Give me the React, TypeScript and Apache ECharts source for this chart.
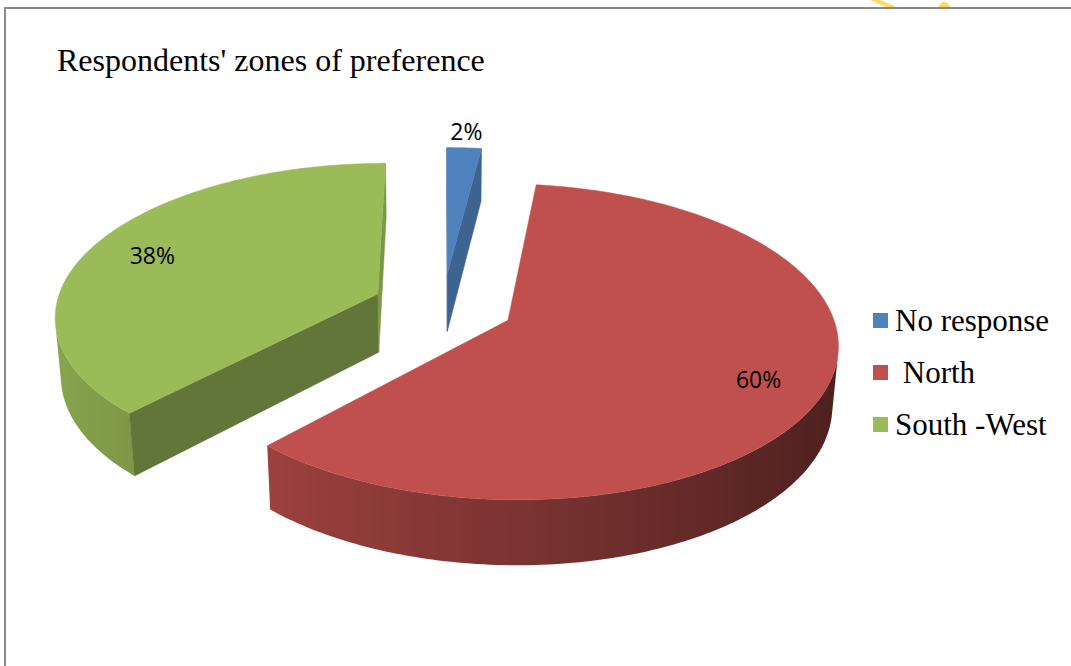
import React, { useEffect, useRef } from "react";
import * as echarts from "echarts";

// ---- data ----
const categories = ["No response", " North", "South -West"];
const values = [2, 60, 38];
const colors = ["#4F81BD", "#C0504D", "#9BBB59"];
const chartTitle = "Respondents' zones of preference";

// ---- view (3D projection) settings ----
const CX = 443;
const CY = 306;
const F = 322;
const ELEV = (28 * Math.PI) / 180;
const DIST = 6.57;
const EXPLODE = 0.22;
const THICK = 0.21;

function project(x: number, y: number, z: number): [number, number] {
  const depth = y * Math.sin(ELEV) + z * Math.cos(ELEV);
  const s = DIST / (DIST - depth);
  return [CX + F * x * s, CY - F * (y * Math.cos(ELEV) - z * Math.sin(ELEV)) * s];
}

function hexToRgb(hex: string): number[] {
  const h = hex.replace("#", "");
  return [0, 2, 4].map((i) => parseInt(h.slice(i, i + 2), 16));
}
function shade(hex: string, f: number): string {
  const [r, g, b] = hexToRgb(hex);
  const c = (v: number) => Math.max(0, Math.min(255, Math.round(v * f)));
  return `rgb(${c(r)},${c(g)},${c(b)})`;
}

const total = values.reduce((a, b) => a + b, 0);
const camZ = DIST * Math.cos(ELEV);

function sliceElements(idx: number) {
  let before = 0;
  for (let i = 0; i < idx; i++) before += values[i];
  const a0 = (before / total) * Math.PI * 2;
  const a1 = ((before + values[idx]) / total) * Math.PI * 2;
  const mid = (a0 + a1) / 2;
  const ox = EXPLODE * Math.sin(mid);
  const oz = -EXPLODE * Math.cos(mid);
  const color = colors[idx];
  const pt = (th: number, r: number, y: number) =>
    project(ox + r * Math.sin(th), y, oz - r * Math.cos(th));

  const children: any[] = [];
  const steps = Math.max(4, Math.ceil(((a1 - a0) * 180) / Math.PI));
  const angles: number[] = [];
  for (let i = 0; i <= steps; i++) angles.push(a0 + ((a1 - a0) * i) / steps);

  // rim wall (front-facing part)
  const vis = angles.filter((th) => {
    const px = ox + Math.sin(th);
    const pz = oz - Math.cos(th);
    const d = Math.sin(th) * (0 - px) + -Math.cos(th) * (camZ - pz);
    return d > 0;
  });
  if (vis.length > 1) {
    const top = vis.map((th) => pt(th, 1, 0));
    const bot = vis.map((th) => pt(th, 1, -THICK));
    const pts = top.concat(bot.slice().reverse());
    const xs = top.map((p) => p[0]);
    const minX = Math.min(...xs);
    const maxX = Math.max(...xs);
    const stops = vis
      .map((th, i) => ({
        offset: maxX > minX ? (xs[i] - minX) / (maxX - minX) : 0,
        color: shade(color, 0.64 - 0.25 * Math.sin(th)),
      }))
      .sort((a, b) => a.offset - b.offset);
    children.push({
      type: "polygon",
      shape: { points: pts },
      style: {
        fill: {
          type: "linear",
          x: minX,
          y: 0,
          x2: maxX,
          y2: 0,
          global: true,
          colorStops: stops,
        },
      },
    });
  }

  // cut walls
  const walls = [
    { th: a0, nx: -Math.cos(a0), nz: -Math.sin(a0) },
    { th: a1, nx: Math.cos(a1), nz: Math.sin(a1) },
  ];
  walls.forEach((w) => {
    const px = ox + 0.5 * Math.sin(w.th);
    const pz = oz - 0.5 * Math.cos(w.th);
    const d = w.nx * (0 - px) + w.nz * (camZ - pz);
    if (d > 0) {
      const c0 = project(ox, 0, oz);
      const c1 = pt(w.th, 1, 0);
      const c2 = pt(w.th, 1, -THICK);
      const c3 = project(ox, -THICK, oz);
      const fc = shade(color, 0.8 - 0.25 * w.nz);
      children.push({
        type: "polygon",
        shape: { points: [c0, c1, c2, c3] },
        style: { fill: fc, stroke: fc, lineWidth: 0.5 },
      });
    }
  });

  // top face
  const topPts = [project(ox, 0, oz)].concat(angles.map((th) => pt(th, 1, 0)));
  children.push({
    type: "polygon",
    shape: { points: topPts },
    style: { fill: color, stroke: color, lineWidth: 0.5 },
  });

  // label
  const share = values[idx] / total;
  const lr = share < 0.05 ? 1.15 : 0.8;
  const lp = pt(mid, lr, 0);
  children.push({
    type: "text",
    style: {
      text: Math.round(share * 100) + "%",
      x: lp[0],
      y: lp[1] + (share < 0.05 ? 0 : 3),
      fill: "#000",
      fontSize: 23,
      fontFamily: "Open Sans",
      align: "center",
      verticalAlign: "middle",
    },
  });
  return children;
}

// draw order (back to front)
function depthOf(idx: number) {
  let before = 0;
  for (let i = 0; i < idx; i++) before += values[i];
  const mid = ((before + values[idx] / 2) / total) * Math.PI * 2;
  return -Math.cos(mid);
}

export default function App() {
  const ref = useRef<HTMLDivElement>(null);
  useEffect(() => {
    if (!ref.current) return;
    const chart = echarts.init(ref.current, undefined, { renderer: "svg" });
    const order = values.map((_, i) => i).sort((a, b) => depthOf(a) - depthOf(b));
    const series = categories.map((name, i) => ({
      type: "custom",
      name,
      coordinateSystem: "none",
      z: 2 + order.indexOf(i),
      itemStyle: { color: colors[i] },
      data: [values[i]],
      renderItem: () => ({ type: "group", children: sliceElements(i) }),
    }));
    chart.setOption({
      animation: false,
      backgroundColor: "#ffffff",
      title: {
        text: chartTitle,
        left: 52,
        top: 39,
        textStyle: {
          fontFamily: "Liberation Serif",
          fontSize: 32,
          fontWeight: "normal",
          color: "#000",
        },
      },
      legend: {
        orient: "vertical",
        left: 868,
        top: 300,
        itemWidth: 15,
        itemHeight: 15,
        itemGap: 21,
        icon: "rect",
        selectedMode: false,
        data: categories,
        textStyle: {
          fontFamily: "Liberation Serif",
          fontSize: 31,
          lineHeight: 30,
          color: "#000",
          padding: [0, 0, 0, 2],
        },
      },
      graphic: [
        {
          type: "rect",
          shape: { x: 5, y: 8, width: 1200, height: 800 },
          style: { fill: "none", stroke: "#8a8a8a", lineWidth: 2 },
          z: 0,
        },
        {
          type: "polygon",
          shape: { points: [[870, 0], [880, 0], [897, 7], [886, 7]] },
          style: { fill: "#FFD966" },
        },
        {
          type: "polygon",
          shape: { points: [[942, 2], [946, 2], [951, 7], [938, 7]] },
          style: { fill: "#FFD966" },
        },
      ],
      series,
    });
    return () => chart.dispose();
  }, []);
  return (
    <div
      ref={ref}
      style={{ position: "absolute", left: 0, top: 0, width: 1071, height: 666 }}
    />
  );
}
